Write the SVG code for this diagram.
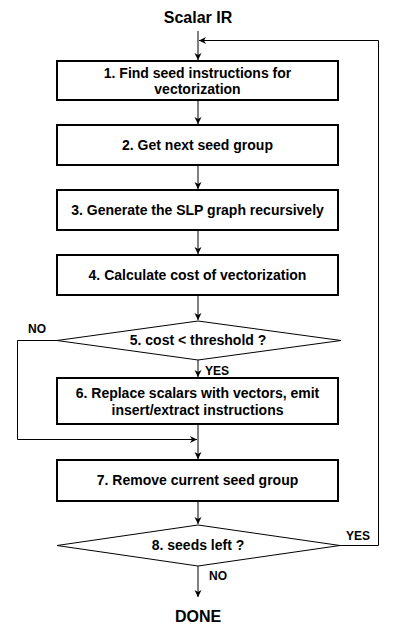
<svg xmlns="http://www.w3.org/2000/svg" width="400" height="638" viewBox="0 0 400 638">
<style>
.box{fill:#fff;stroke:#000;stroke-width:2}
.t{font-family:"Liberation Sans",Arial,sans-serif;font-weight:bold;font-size:14px;fill:#000;text-anchor:middle}
.big{font-size:16px}
.lbl{font-size:12px;text-anchor:start}
.c{fill:none;stroke:#000;stroke-width:1}
</style>
<defs>
<marker id="a" markerWidth="8" markerHeight="8" refX="7" refY="4" orient="auto" markerUnits="userSpaceOnUse">
<path d="M0,0.5 L7,4 L0,7.5 L2,4 Z" fill="#000"/>
</marker>
</defs>
<rect width="400" height="638" fill="#fff"/>
<g id="connectors">
<path class="c" d="M198,31 V60" marker-end="url(#a)"/>
<path class="c" d="M198,101 V124" marker-end="url(#a)"/>
<path class="c" d="M198,166 V189" marker-end="url(#a)"/>
<path class="c" d="M198,231 V254" marker-end="url(#a)"/>
<path class="c" d="M198,296 V320" marker-end="url(#a)"/>
<path class="c" d="M198,360 V377" marker-end="url(#a)"/>
<path class="c" d="M198,425 V459" marker-end="url(#a)"/>
<path class="c" d="M57,340.5 H17.5 V439.5 H197" marker-end="url(#a)"/>
<path class="c" d="M198,502 V524" marker-end="url(#a)"/>
<path class="c" d="M340,545.5 H378.5 V40.5 H199" marker-end="url(#a)"/>
<path class="c" d="M198,566 V597" marker-end="url(#a)"/>
<text class="t lbl" x="28" y="333">NO</text>
<text class="t lbl" x="205" y="375">YES</text>
<text class="t lbl" x="346" y="540">YES</text>
<text class="t lbl" x="209" y="580">NO</text>
</g>
<g id="start"><text class="t big" x="198" y="23">Scalar IR</text></g>
<g id="n1"><rect class="box" x="57" y="61" width="281" height="39"/>
<text class="t" x="197.5" y="78">1. Find seed instructions for</text>
<text class="t" x="197.5" y="94">vectorization</text></g>
<g id="n2"><rect class="box" x="57" y="125" width="281" height="40"/>
<text class="t" x="197.5" y="150">2. Get next seed group</text></g>
<g id="n3"><rect class="box" x="57" y="190" width="281" height="40"/>
<text class="t" x="197.5" y="215">3. Generate the SLP graph recursively</text></g>
<g id="n4"><rect class="box" x="57" y="255" width="281" height="40"/>
<text class="t" x="197.5" y="280">4. Calculate cost of vectorization</text></g>
<g id="n5"><path d="M198,321 L341,340.5 L198,360 L57,340.5 Z" fill="#fff" stroke="#000" stroke-width="1"/>
<text class="t" x="198" y="345">5. cost &lt; threshold ?</text></g>
<g id="n6"><rect class="box" x="57" y="378" width="281" height="46"/>
<text class="t" x="197.5" y="398">6. Replace scalars with vectors, emit</text>
<text class="t" x="197.5" y="415">insert/extract instructions</text></g>
<g id="n7"><rect class="box" x="57" y="460" width="281" height="41"/>
<text class="t" x="197.5" y="485">7. Remove current seed group</text></g>
<g id="n8"><path d="M198,525 L340,545.5 L198,566 L57,545.5 Z" fill="#fff" stroke="#000" stroke-width="1"/>
<text class="t" x="198" y="550">8. seeds left ?</text></g>
<g id="end"><text class="t big" x="198" y="622">DONE</text></g>
</svg>
